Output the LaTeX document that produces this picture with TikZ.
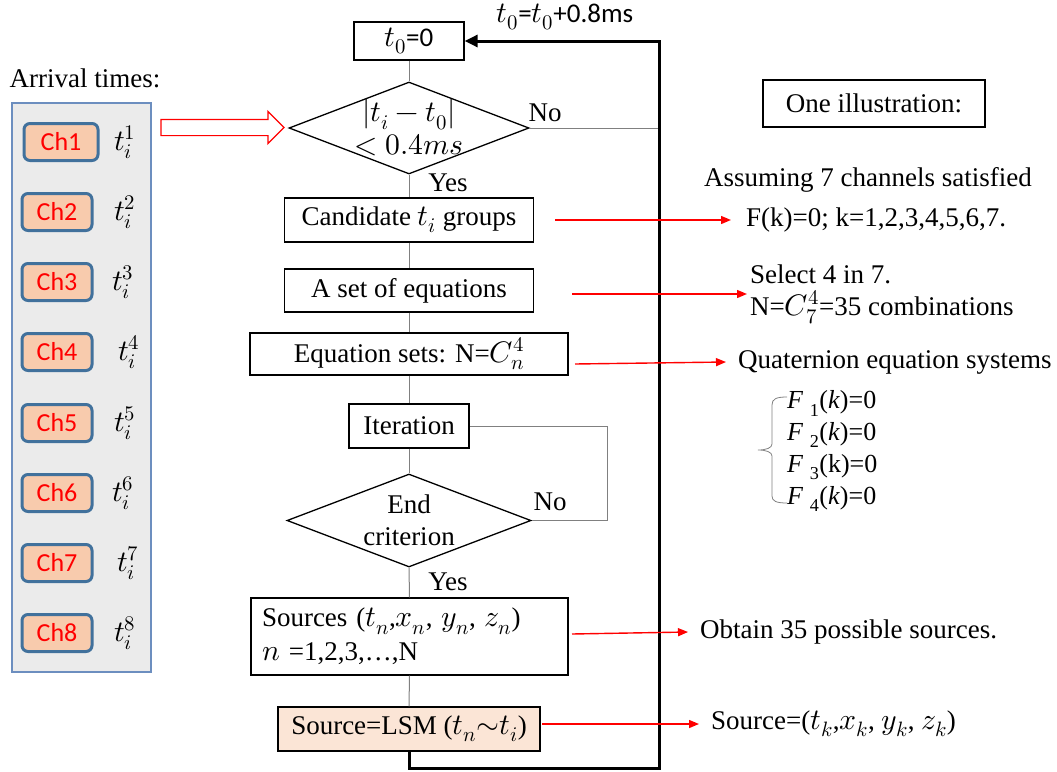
\documentclass[tikz,border=0pt]{standalone}
\usepackage{fontspec}
\usepackage{unicode-math}
\setmainfont{Liberation Serif}
\setmathfont{Latin Modern Math}[Scale=1.1]
\newfontfamily\calibri{Carlito}
\usetikzlibrary{shapes.geometric,shapes.arrows,arrows.meta}
\definecolor{panelfill}{HTML}{EBEBEB}
\definecolor{panelline}{HTML}{6C8EBF}
\definecolor{chfill}{HTML}{F8CBAD}
\definecolor{chline}{HTML}{41719C}
\definecolor{lsmfill}{HTML}{FBE5D6}
\definecolor{flowgray}{HTML}{808080}
\definecolor{notered}{HTML}{FF0000}
\begin{document}
\begin{tikzpicture}[x=1pt,y=-1pt,
  serif/.style={font=\fontsize{27}{32}\selectfont},
  box/.style={draw, line width=1.3pt, inner sep=0pt, serif},
  decision/.style={diamond, draw, line width=1.3pt, inner sep=0pt},
  chbox/.style={draw=chline, fill=chfill, line width=3pt, rounded corners=6pt,
    minimum width=70pt, minimum height=37pt, inner sep=0pt,
    font=\calibri\fontsize{26}{30}\selectfont, text=red},
  flow/.style={draw=flowgray, line width=1pt},
  note/.style={draw=notered, line width=1.4pt,
    -{Triangle[length=10pt,width=8pt,fill=notered]}},
  back/.style={line width=3pt, -{Triangle[length=13pt,width=12pt]}},
  sidetext/.style={serif, anchor=west, inner xsep=12pt, inner ysep=0pt}]
\useasboundingbox (0,0) rectangle (1057,771);

% arrival-time panel
\node[serif] (arrival) at (85,78) {Arrival times:};
\node[draw=panelline, fill=panelfill, line width=1.2pt, minimum width=139pt,
  minimum height=569pt, inner sep=0pt] (panel) at (81.5,387.5) {};
\node[chbox, minimum width=74pt] (ch1) at (61,142) {Ch1};
\node[serif] (ti1) at (125,142) {$t_i^1$};
\foreach \k/\y/\tx in {2/212/125, 3/282/123, 4/352/129, 5/423/125, 6/493/123, 7/563/128, 8/633/125}{
  \node[chbox] (ch\k) at (57,\y) {Ch\k};
  \node[serif] (ti\k) at (\tx,\y) {$t_i^{\k}$};
}

% hollow feed arrow into the window test
\node[single arrow, draw=red, fill=white, line width=1.2pt, minimum height=123pt,
  minimum width=31pt, inner xsep=0pt, inner ysep=7.5pt,
  single arrow head extend=8pt, single arrow head indent=0pt] (feed) at (218.5,127.5) {};

% main flow
\node[box, minimum width=110pt, minimum height=38pt] (t0box) at (409,41) {$t_0${\calibri =0}};
\node[decision, minimum width=240pt, minimum height=92pt] (d1) at (409,128) {};
\node[serif, align=center, font=\fontsize{27}{33}\selectfont] (d1txt) at (d1) {$|t_i-t_0|$\\$<0.4ms$};
\node[box, minimum width=249pt, minimum height=44pt] (cand) at (409,220) {Candidate $t_i$ groups};
\node[box, minimum width=249pt, minimum height=43pt] (eqs) at (409,290.5) {A set of equations};
\node[box, minimum width=318pt, minimum height=42pt] (eqsets) at (409,354) {Equation sets: N=$C_n^4$};
\node[box, minimum width=120pt, minimum height=44pt] (iter) at (409,426) {Iteration};
\node[decision, minimum width=244pt, minimum height=93pt] (d2) at (409,520.5) {};
\node[serif, align=center] (d2txt) at (d2) {End\\criterion};
\node[box, minimum width=317pt, minimum height=77pt, align=left, text width=295pt,
  font=\fontsize{27}{34}\selectfont] (src) at (409.5,636.5)
  {Sources ($t_n$,$x_n$, $y_n$, $z_n$)\\$n$ =1,2,3,…,N};
\node[box, fill=lsmfill, minimum width=262pt, minimum height=44pt] (lsm) at (409,729) {Source=LSM ($t_n{\sim}t_i$)};

\draw[flow] (t0box.south) -- (d1.north);
\draw[flow] (d1.south) -- (cand.north);
\draw[flow] (cand.south) -- (eqs.north);
\draw[flow] (eqs.south) -- (eqsets.north);
\draw[flow] (eqsets.south) -- (iter.north);
\draw[flow] (iter.south) -- (d2.north);
\draw[flow] (d2.south) -- (src.north);
\draw[flow] (src.south) -- (lsm.north);

\node[serif] (yes1) at (448,183) {Yes};
\node[serif] (no1) at (545,113) {No};
\node[serif] (yes2) at (448,582) {Yes};
\node[serif] (no2) at (550,502) {No};

\coordinate (d1no) at (659,128);
\draw[flow] (d1.east) -- (d1no);
\coordinate (itcorner) at (607,426);
\draw[flow] (d2.east) -| (itcorner) -- (iter.east);

% time-window advance loop
\coordinate (retlow) at (659,768);
\draw[back] (lsm.south) |- (retlow) |- (t0box.east);
\node[serif] (incr) at (565,17) {$t_0${\calibri =}$t_0${\calibri +0.8ms}};

% worked example
\node[box, minimum width=222pt, minimum height=47pt] (illus) at (874,103.5) {One illustration:};
\node[serif] (assume) at (868,180) {Assuming 7 channels satisfied};
\node[sidetext, inner xsep=15pt] (fk) at (731,220) {F(k)=0; k=1,2,3,4,5,6,7.};
\coordinate (fkfrom) at (555,220);
\draw[note] (fkfrom) -- (fk.west);

\node[sidetext, align=left, inner xsep=3pt] (sel) at (747,294) {Select 4 in 7.\\N=$C_7^4$=35 combinations};
\coordinate (selfrom) at (572,294);
\draw[note] (selfrom) -- (sel.west);

\node[sidetext] (quat) at (726,362) {Quaternion equation systems};
\coordinate (quatfrom) at (575,364);
\draw[note] (quatfrom) -- (quat.west);

\node[anchor=west, align=left, inner sep=0pt, font=\fontsize{26}{31.7}\selectfont] (fsys) at (787,451)
  {\textit{F} \textsubscript{1}(\textit{k})=0\\
   \textit{F} \textsubscript{2}(\textit{k})=0\\
   \textit{F} \textsubscript{3}(k)=0\\
   \textit{F} \textsubscript{4}(\textit{k})=0};
\draw[flowgray, line width=0.8pt] (787,397) .. controls (776,397) and (772,399) .. (772,405)
  -- (772,444) .. controls (772,448) and (766,450) .. (758,450)
  .. controls (766,450) and (772,452) .. (772,456)
  -- (772,496) .. controls (772,501) and (776,503) .. (787,503);

\node[sidetext] (obtain) at (688,632) {Obtain 35 possible sources.};
\coordinate (obtfrom) at (572,634);
\draw[note] (obtfrom) -- (obtain.west);

\node[sidetext] (srck) at (699,724) {Source=($t_k$,$x_k$, $y_k$, $z_k$)};
\coordinate (srcfrom) at (542,724);
\draw[note] (srcfrom) -- (srck.west);
\end{tikzpicture}
\end{document}
